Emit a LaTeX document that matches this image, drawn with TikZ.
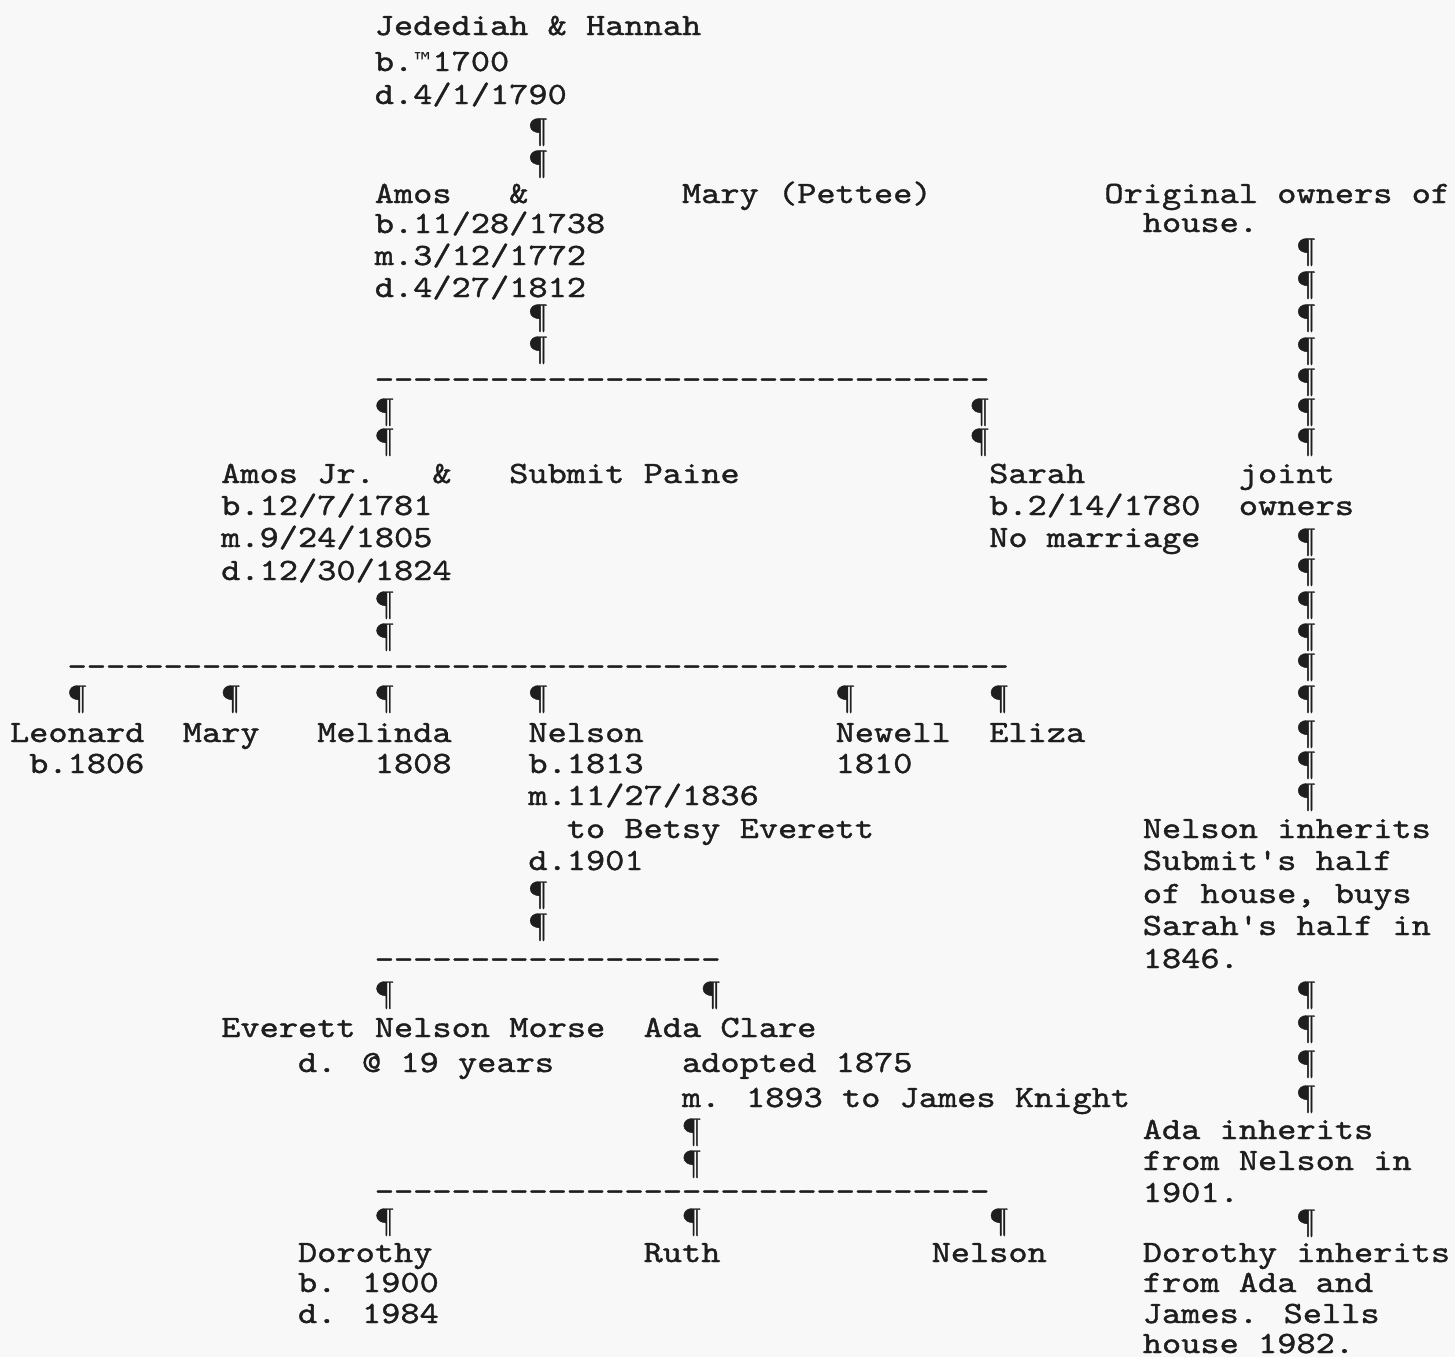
\documentclass[tikz,border=0pt]{standalone}
\usepackage{fontspec}
\newfontfamily\twfont[Extension=.otf, FakeBold=1.2, FakeStretch=1.18]{lmmono10-regular}
\newfontfamily\symfont{DejaVu Sans Mono}
\definecolor{ink}{HTML}{1E1E1E}
\definecolor{paper}{HTML}{F8F8F8}
\tikzset{tw/.style={anchor=base west, inner sep=0pt, outer sep=0pt,
  font=\twfont\fontsize{15.5pt}{15.5pt}\selectfont, text=ink}}
\newcommand\tx[4]{\node[tw] (#1) at ({10+19.2*(#2)},{#3+10}) {#4};}
\newcommand\pil[3]{\node[tw] (#1) at ({10+19.2*(#2)},{#3+10}) {¶};}
\newcommand\tmark{\makebox[9.6pt][c]{\symfont\fontsize{13pt}{13pt}\selectfont ™}}
\begin{document}
\begin{tikzpicture}[x=0.5pt,y=-0.5pt]
\fill[paper] (0,0) rectangle (1455,1357);
\useasboundingbox (0,0) rectangle (1455,1357);
% generation 1
\tx{jh}{19}{25}{Jedediah \& Hannah}
\tx{jhb}{19}{61}{b.\tmark1700}
\tx{jhd}{19}{94}{d.4/1/1790}
\pil{p1}{27}{130}
\pil{p2}{27}{162}
% generation 2
\tx{amos}{19}{193}{Amos}
\tx{amp1}{26}{193}{\&}
\tx{mary}{35}{193}{Mary (Pettee)}
\tx{orig}{57}{193}{Original owners of}
\tx{ab}{19}{223}{b.11/28/1738}
\tx{house}{59}{222}{house.}
\tx{am}{19}{255}{m.3/12/1772}
\tx{ad}{19}{287}{d.4/27/1812}
\pil{p3}{27}{316}
\pil{p4}{27}{348}
\pil{r1}{67}{250}
\pil{r2}{67}{283}
\pil{r3}{67}{316}
\pil{r4}{67}{349}
\pil{r5}{67}{380}
\pil{r6}{67}{410}
\pil{r7}{67}{440}
\tx{d1}{19}{379}{--------------------------------}
\pil{p5}{19}{410}
\pil{p6}{50}{410}
\pil{p7}{19}{440}
\pil{p8}{50}{440}
% generation 3
\tx{ajr}{11}{473}{Amos Jr.}
\tx{amp2}{22}{473}{\&}
\tx{sub}{26}{473}{Submit Paine}
\tx{sarah}{51}{473}{Sarah}
\tx{joint}{64}{473}{joint}
\tx{ajb}{11}{505}{b.12/7/1781}
\tx{sb}{51}{505}{b.2/14/1780}
\tx{owners}{64}{505}{owners}
\tx{ajm}{11}{537}{m.9/24/1805}
\tx{snm}{51}{537}{No marriage}
\tx{ajd}{11}{570}{d.12/30/1824}
\pil{r8}{67}{540}
\pil{r9}{67}{570}
\pil{p9}{19}{603}
\pil{p10}{19}{635}
\pil{r10}{67}{603}
\pil{r11}{67}{635}
\tx{d2}{3}{666}{-------------------------------------------------}
\pil{r12}{67}{665}
\pil{p11}{3}{697}
\pil{p12}{11}{697}
\pil{p13}{19}{697}
\pil{p14}{27}{697}
\pil{p15}{43}{697}
\pil{p16}{51}{697}
\pil{r13}{67}{697}
% generation 4
\tx{leo}{0}{732}{Leonard}
\tx{maryb}{9}{732}{Mary}
\tx{mel}{16}{732}{Melinda}
\tx{nel}{27}{732}{Nelson}
\tx{new}{43}{732}{Newell}
\tx{eli}{51}{732}{Eliza}
\pil{r14}{67}{732}
\tx{leob}{1}{763}{b.1806}
\tx{melb}{19}{763}{1808}
\tx{nelb}{27}{763}{b.1813}
\tx{newb}{43}{763}{1810}
\pil{r15}{67}{763}
\tx{nelm}{27}{795}{m.11/27/1836}
\pil{r16}{67}{795}
\tx{nelt}{29}{828}{to Betsy Everett}
\tx{n1}{59}{828}{Nelson inherits}
\tx{neld}{27}{860}{d.1901}
\tx{n2}{59}{860}{Submit's half}
\pil{p17}{27}{893}
\tx{n3}{59}{893}{of house, buys}
\pil{p18}{27}{925}
\tx{n4}{59}{925}{Sarah's half in}
\tx{d3}{19}{959}{------------------}
\tx{n5}{59}{958}{1846.}
\pil{p19}{19}{993}
\pil{p20}{36}{993}
\pil{r17}{67}{993}
% generation 5
\tx{enm}{11}{1027}{Everett Nelson Morse}
\tx{ada}{33}{1027}{Ada Clare}
\pil{r18}{67}{1027}
\tx{enmd}{15}{1062}{d. @ 19 years}
\tx{adaa}{35}{1062}{adopted 1875}
\pil{r19}{67}{1062}
\tx{adam}{35}{1097}{m. 1893 to James Knight}
\pil{r20}{67}{1097}
\pil{p21}{35}{1130}
\tx{a1}{59}{1129}{Ada inherits}
\pil{p22}{35}{1162}
\tx{a2}{59}{1160}{from Nelson in}
\tx{d4}{19}{1191}{--------------------------------}
\tx{a3}{59}{1192}{1901.}
\pil{p23}{19}{1220}
\pil{p24}{35}{1220}
\pil{p25}{51}{1220}
\pil{r21}{67}{1221}
% generation 6
\tx{dor}{15}{1252}{Dorothy}
\tx{ruth}{33}{1252}{Ruth}
\tx{nelc}{48}{1252}{Nelson}
\tx{o1}{59}{1252}{Dorothy inherits}
\tx{dorb}{15}{1282}{b. 1900}
\tx{o2}{59}{1282}{from Ada and}
\tx{dord}{15}{1313}{d. 1984}
\tx{o3}{59}{1313}{James. Sells}
\tx{o4}{59}{1343}{house 1982.}
\end{tikzpicture}
\end{document}
